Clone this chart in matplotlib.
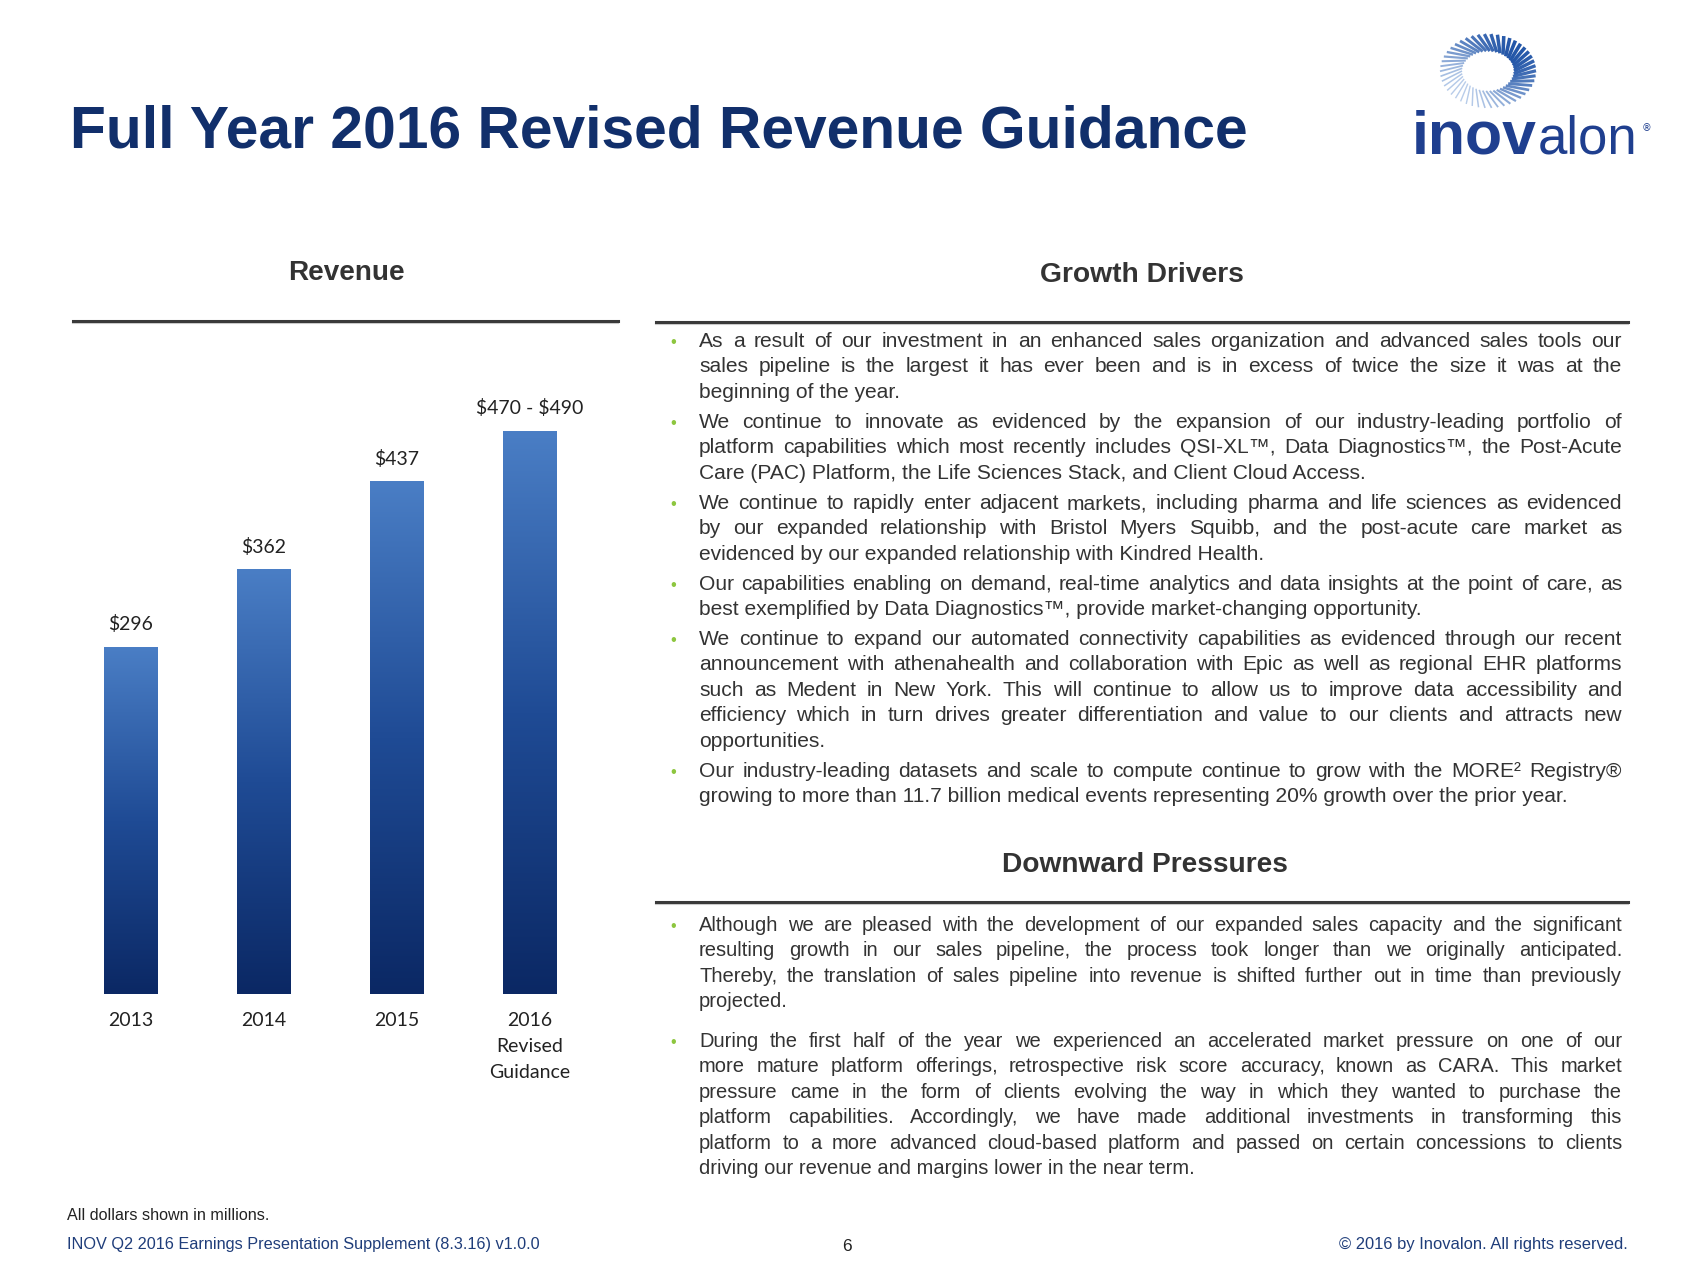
import numpy as np
import matplotlib
matplotlib.use("Agg")
import matplotlib.pyplot as plt
from matplotlib.colors import LinearSegmentedColormap, to_rgb

# ---------------------------------------------
# data
# ---------------------------------------------
years = ["2013", "2014", "2015", "2016\nRevised\nGuidance"]
revenue = [296, 362, 437, 480]          # 2016 bar drawn at middle of guidance range
bar_labels = [r"\$296", r"\$362", r"\$437", r"\$470 - \$490"]

growth_drivers = [
    ["As a result of our investment in an enhanced sales organization and advanced sales tools our",
     "sales pipeline is the largest it has ever been and is in excess of twice the size it was at the",
     "beginning of the year."],
    ["We continue to innovate as evidenced by the expansion of our industry-leading portfolio of",
     "platform capabilities which most recently includes QSI-XL™, Data Diagnostics™, the Post-Acute",
     "Care (PAC) Platform, the Life Sciences Stack, and Client Cloud Access."],
    ["We continue to rapidly enter adjacent markets, including pharma and life sciences as evidenced",
     "by our expanded relationship with Bristol Myers Squibb, and the post-acute care market as",
     "evidenced by our expanded relationship with Kindred Health."],
    ["Our capabilities enabling on demand, real-time analytics and data insights at the point of care, as",
     "best exemplified by Data Diagnostics™, provide market-changing opportunity."],
    ["We continue to expand our automated connectivity capabilities as evidenced through our recent",
     "announcement with athenahealth and collaboration with Epic as well as regional EHR platforms",
     "such as Medent in New York. This will continue to allow us to improve data accessibility and",
     "efficiency which in turn drives greater differentiation and value to our clients and attracts new",
     "opportunities."],
    ["Our industry-leading datasets and scale to compute continue to grow with the MORE² Registry®",
     "growing to more than 11.7 billion medical events representing 20% growth over the prior year."],
]

downward_pressures = [
    ["Although we are pleased with the development of our expanded sales capacity and the significant",
     "resulting growth in our sales pipeline, the process took longer than we originally anticipated.",
     "Thereby, the translation of sales pipeline into revenue is shifted further out in time than previously",
     "projected."],
    ["During the first half of the year we experienced an accelerated market pressure on one of our",
     "more mature platform offerings, retrospective risk score accuracy, known as CARA. This market",
     "pressure came in the form of clients evolving the way in which they wanted to purchase the",
     "platform capabilities. Accordingly, we have made additional investments in transforming this",
     "platform to a more advanced cloud-based platform and passed on certain concessions to clients",
     "driving our revenue and margins lower in the near term."],
]

# ---------------------------------------------
# layout (pixels, from top-left)
# ---------------------------------------------
W, H = 1693, 1270
NAVY = "#112f6b"
TEXT = "#333333"
GREEN = "#8dc63f"
NARROW = ["Liberation Sans Narrow", "Liberation Sans", "DejaVu Sans"]
ARIAL = ["Liberation Sans", "DejaVu Sans"]

fig = plt.figure(figsize=(W / 100, H / 100), dpi=100)
fig.patch.set_facecolor("white")
renderer = fig.canvas.get_renderer()

bg = fig.add_axes([0, 0, 1, 1])
bg.set_xlim(0, W)
bg.set_ylim(H, 0)
bg.axis("off")


def width_of(t):
    return t.get_window_extent(renderer).width


def fit_text(x, y, s, width, size, **kw):
    t = bg.text(x, y, s, fontsize=size, **kw)
    t.set_fontsize(size * width / width_of(t))
    return t


def draw_block(paras, starts, x_bullet, x0, x1, step, size, family):
    # shrink font if the widest justified line would not fit
    widest = 0
    for p in paras:
        for line in p[:-1]:
            t = bg.text(0, 0, line, fontsize=size, family=family)
            widest = max(widest, width_of(t))
            t.remove()
    if widest > (x1 - x0) * 0.97:
        size = size * (x1 - x0) * 0.97 / widest
    for p, y0 in zip(paras, starts):
        bg.text(x_bullet, y0, "•", fontsize=size * 0.8, color=GREEN,
                ha="center", va="baseline", family=ARIAL)
        for k, line in enumerate(p):
            y = y0 + k * step
            if k == len(p) - 1:
                bg.text(x0, y, line, fontsize=size, family=family, color=TEXT,
                        ha="left", va="baseline")
                continue
            words = line.split(" ")
            ts = [bg.text(0, y, w, fontsize=size, family=family, color=TEXT,
                          ha="left", va="baseline") for w in words]
            ws = [width_of(t) for t in ts]
            gap = (x1 - x0 - sum(ws)) / (len(words) - 1)
            x = x0
            for t, w in zip(ts, ws):
                t.set_x(x)
                x += w + gap


# title
fit_text(70, 148, "Full Year 2016 Revised Revenue Guidance", 1180, 42,
         fontweight="bold", color=NAVY, family=ARIAL, ha="left", va="baseline")

# logo: ring of rays + word mark
cx, cy = 1488, 71
light, dark = np.array(to_rgb("#b9cdea")), np.array(to_rgb("#2457a8"))
n_rays = 46
for i in range(n_rays):
    th = 2 * np.pi * i / n_rays
    tw = 0.28
    s = 0.5 + 0.5 * np.cos(th - 0.6)
    col = light * (1 - s) + dark * s
    bg.plot([cx + 26 * np.cos(th), cx + 48 * np.cos(th + tw)],
            [cy - 20 * np.sin(th), cy - 37 * np.sin(th + tw)],
            color=col, lw=1.0 + 1.6 * s, solid_capstyle="butt")
fit_text(1412, 153, "inov", 125, 36, fontweight="bold", color="#1f3f8f",
         family=ARIAL, ha="left", va="baseline")
fit_text(1538, 153, "alon", 100, 36, color="#1f3f8f",
         family=ARIAL, ha="left", va="baseline")
bg.text(1642, 128, "®", fontsize=7, color="#1f3f8f", ha="left", va="center")

# section headers and rules
fit_text(346, 280, "Revenue", 116, 19, fontweight="bold", color=TEXT,
         family=ARIAL, ha="center", va="baseline")
fit_text(1142, 282, "Growth Drivers", 204, 19, fontweight="bold", color=TEXT,
         family=ARIAL, ha="center", va="baseline")
fit_text(1145, 872, "Downward Pressures", 286, 19, fontweight="bold", color=TEXT,
         family=ARIAL, ha="center", va="baseline")
for x0, x1, y in [(73, 618, 321), (656, 1628, 322), (656, 1628, 902)]:
    bg.plot([x0, x1], [y + 2, y + 2], color="#cfcfcf", lw=1.5)
    bg.plot([x0, x1], [y, y], color="#3a3a3a", lw=2.2)

# bullet text
step = 25.4
draw_block(growth_drivers, [347, 428, 509, 590, 645, 777], 673, 699, 1622, step, 15.5, NARROW)
draw_block(downward_pressures, [931, 1047], 673, 699, 1622, step, 14.5, ARIAL)

# footer
fit_text(67, 1220, "All dollars shown in millions.", 202, 9, color="#222222",
         family=NARROW, ha="left", va="baseline")
fit_text(67, 1249, "INOV Q2 2016 Earnings Presentation Supplement (8.3.16) v1.0.0", 474, 9,
         color="#1f3d7a", family=NARROW, ha="left", va="baseline")
bg.text(847, 1251, "6", fontsize=12.5, color="#222222", family=NARROW,
        ha="center", va="baseline")
fit_text(1628, 1249, "© 2016 by Inovalon. All rights reserved.", 289, 9,
         color="#1f3d7a", family=NARROW, ha="right", va="baseline")

# ---------------------------------------------
# revenue bar chart
# ---------------------------------------------
ax = fig.add_axes([64.5 / W, (H - 993.6) / H, 532 / W, 644.6 / H])
ax.patch.set_alpha(0)
x = np.arange(len(years))
bars = ax.bar(x, revenue, width=0.405, color="#2a5aa5", edgecolor="none")

grad = LinearSegmentedColormap.from_list("rev", ["#0b2864", "#1f4b95", "#4a7ec5"])
for b in bars:
    x0, w, h = b.get_x(), b.get_width(), b.get_height()
    im = ax.imshow(np.linspace(0, 1, 256).reshape(-1, 1), cmap=grad, origin="lower",
                   extent=[x0, x0 + w, 0, h], aspect="auto", zorder=2)
    im.set_clip_path(b)

for xi, v, lab in zip(x, revenue, bar_labels):
    ax.annotate(lab, (xi, v), xytext=(0, 12), textcoords="offset points",
                ha="center", va="baseline", fontsize=14, color="#222222",
                family=["Lato", "DejaVu Sans"])

ax.set_xlim(-0.5, 3.5)
ax.set_ylim(0, 550)
ax.set_xticks(x)
ax.set_xticklabels(years, fontsize=14, color="#222222", family=["Lato", "DejaVu Sans"],
                   linespacing=1.65)
ax.tick_params(axis="x", length=0, pad=13)
ax.set_yticks([])
for sp in ax.spines.values():
    sp.set_visible(False)

fig.savefig("out.png", dpi=100, facecolor="white")
